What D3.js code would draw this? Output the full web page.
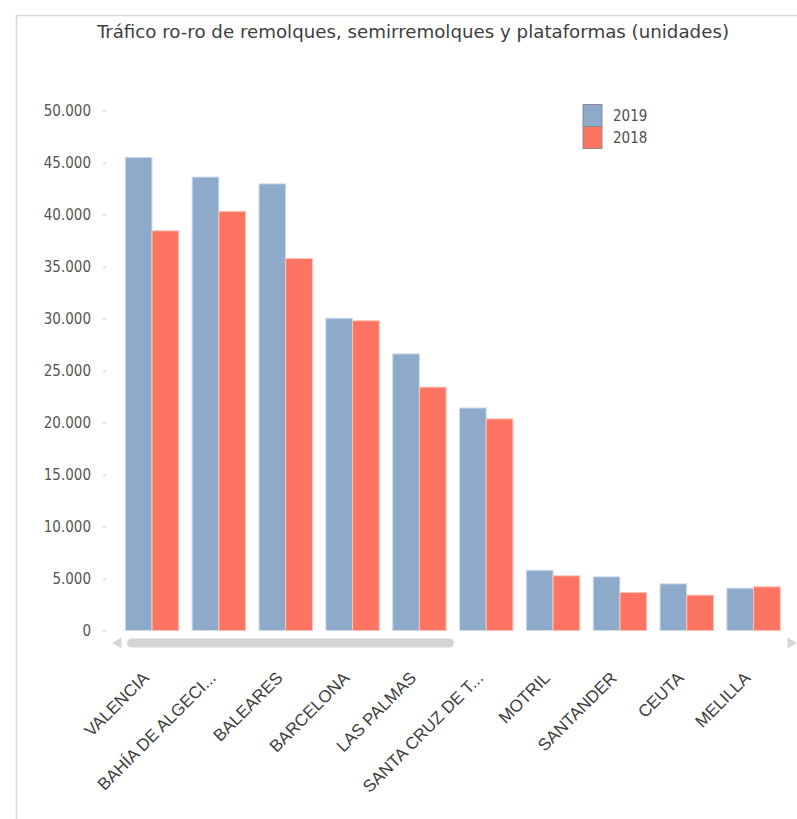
<!DOCTYPE html>
<html><head><meta charset="utf-8">
<script src="https://cdn.jsdelivr.net/npm/d3@7"></script>
<style>
html,body{margin:0;padding:0;background:#fff;}
svg{display:block;}
</style></head>
<body>
<svg id="chart" width="797" height="819"></svg>
<script>
const categories = ["VALENCIA","BAHÍA DE ALGECI...","BALEARES","BARCELONA","LAS PALMAS","SANTA CRUZ DE T...","MOTRIL","SANTANDER","CEUTA","MELILLA"];
const series2019 = [45500, 43600, 42950, 30030, 26600, 21400, 5800, 5160, 4490, 4070];
const series2018 = [38430, 40300, 35770, 29780, 23400, 20350, 5260, 3650, 3400, 4200];
const seriesNames = ["2019", "2018"];
const yTicks = [0,5000,10000,15000,20000,25000,30000,35000,40000,45000,50000];
const title = "Tráfico ro-ro de remolques, semirremolques y plataformas (unidades)";

const colors = {"2019":"#8eaacb","2018":"#fe7463"};
const strokes = {"2019":"#d3deeb","2018":"#ffc2ba"};

const svg = d3.select("#chart");

// frame
svg.append("path").attr("d","M16.5,819 V15.5 H797").attr("fill","none").attr("stroke","#d9d9d9").attr("stroke-width",1.5);

const locale = d3.formatLocale({decimal:",",thousands:".",grouping:[3],currency:["","€"]});
const fmt = locale.format(",d");

const x0 = d3.scaleBand().domain(categories).range([118.6, 787]).paddingInner(0.2).paddingOuter(0.1);
const x1 = d3.scaleBand().domain(seriesNames).range([0, x0.bandwidth()]);
const y = d3.scaleLinear().domain([0, 50000]).range([630.5, 110.5]);

// title
svg.append("text").attr("x", 413).attr("y", 38).attr("text-anchor","middle")
  .attr("font-family","'DejaVu Sans Condensed','DejaVu Sans',sans-serif").attr("font-size",17.5)
  .attr("fill","#404040").attr("textLength",632).attr("lengthAdjust","spacingAndGlyphs").text(title);

// y axis
const yAxis = d3.axisLeft(y).tickValues(yTicks).tickFormat(fmt).tickSize(3).tickPadding(12);
const gy = svg.append("g").attr("transform","translate(106,0)").call(yAxis);
gy.select(".domain").remove();
gy.selectAll(".tick line").attr("stroke","#c8c8c8");
gy.selectAll(".tick text").attr("font-family","'DejaVu Sans Condensed','DejaVu Sans',sans-serif")
  .attr("font-size",15).attr("fill","#555");

// bars
const data = categories.map((c,i)=>({cat:c, vals:[{k:"2019",v:series2019[i]},{k:"2018",v:series2018[i]}]}));
const groups = svg.append("g").selectAll("g").data(data).join("g")
  .attr("transform", d=>`translate(${x0(d.cat)},0)`);
groups.selectAll("rect").data(d=>d.vals).join("rect")
  .attr("x", d=>x1(d.k)).attr("width", x1.bandwidth())
  .attr("y", d=>y(d.v)).attr("height", d=>y(0)-y(d.v))
  .attr("fill", d=>colors[d.k]).attr("stroke", d=>strokes[d.k]).attr("stroke-width",1);

// scrollbar
svg.append("path").attr("d","M121.5,637.5 L121.5,648.5 L112,643 Z").attr("fill","#d6d6d6");
svg.append("path").attr("d","M787.5,637.5 L787.5,648.5 L797,643 Z").attr("fill","#d6d6d6");
svg.append("rect").attr("x",127).attr("y",638.5).attr("width",327).attr("height",9).attr("rx",4.5)
  .attr("fill","#d4d4d4");

// x labels
const xAxis = d3.axisBottom(x0).tickSize(0).tickPadding(0);
const gx = svg.append("g").attr("transform","translate(0,664)").call(xAxis);
gx.select(".domain").remove();
gx.selectAll(".tick text")
  .attr("font-family","'Liberation Sans',Arial,sans-serif").attr("font-size",17).attr("fill","#404040")
  .attr("text-anchor","end").attr("dy",0).attr("y",0).attr("x",0)
  .attr("transform","translate(-2,15) rotate(-45)");

// legend
const lg = svg.append("g").attr("transform","translate(583,104.5)");
seriesNames.forEach((s,i)=>{
  lg.append("rect").attr("x",0).attr("y",i*22).attr("width",19).attr("height",22)
    .attr("fill",colors[s]).attr("stroke","#8c8c8c").attr("stroke-width",1);
  lg.append("text").attr("x",30).attr("y",i*22+16).attr("font-family","'DejaVu Sans Condensed','DejaVu Sans',sans-serif")
    .attr("font-size",15).attr("fill","#505050").text(s);
});
</script>
</body></html>
